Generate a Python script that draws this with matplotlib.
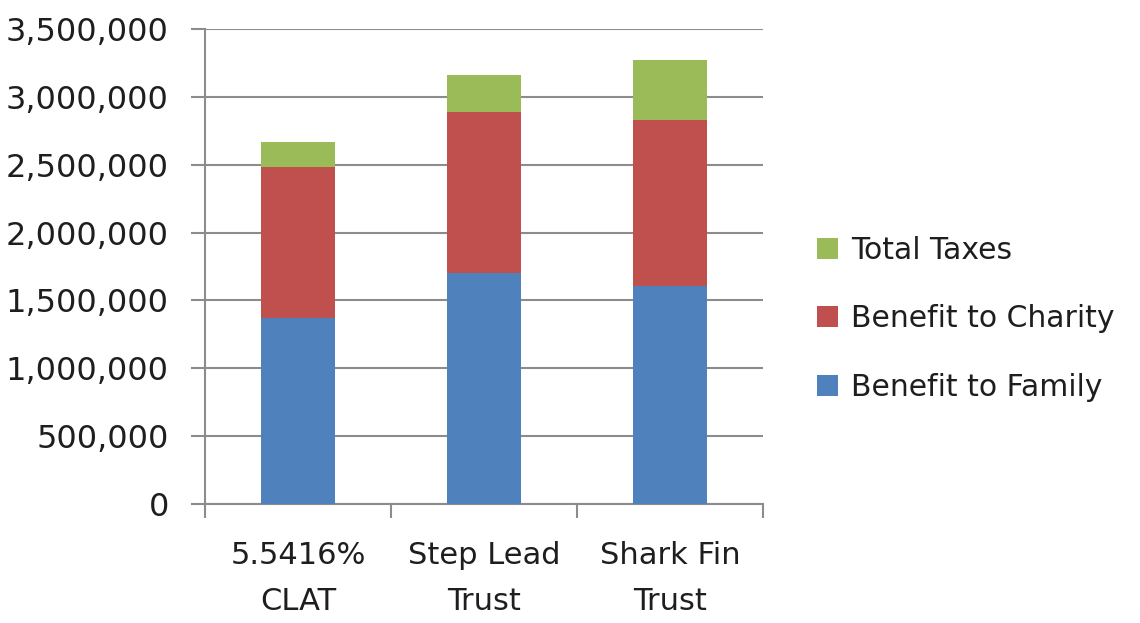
import matplotlib.pyplot as plt
from matplotlib.ticker import FuncFormatter, FixedLocator
import numpy as np

categories = ['5.5416%\nCLAT', 'Step Lead\nTrust', 'Shark Fin\nTrust']
family = [1370000, 1700000, 1610000]
charity = [1110000, 1185000, 1220000]
taxes = [185000, 275000, 440000]

plt.rcParams['font.family'] = ['DejaVu Sans']

fig = plt.figure(figsize=(11.4, 6.23), dpi=100)
ax = fig.add_axes([205 / 1140, 1 - 504 / 623, 558 / 1140, 475 / 623])

x = np.arange(len(categories))
w = 0.4
b1 = ax.bar(x, family, w, color='#4F81BD', label='Benefit to Family', zorder=3)
b2 = ax.bar(x, charity, w, bottom=family, color='#C0504D',
            label='Benefit to Charity', zorder=3)
bottom3 = np.array(family) + np.array(charity)
b3 = ax.bar(x, taxes, w, bottom=bottom3, color='#9BBB59',
            label='Total Taxes', zorder=3)

ax.set_xlim(-0.5, len(categories) - 0.5)
ax.set_ylim(0, 3500000)
ax.set_yticks(np.arange(0, 3500001, 500000))
ax.yaxis.set_major_formatter(FuncFormatter(lambda v, p: f'{int(v):,}'))
ax.yaxis.grid(True, color='#8c8c8c', linewidth=1.5, zorder=0)

# category labels sit between the boundary ticks
ax.xaxis.set_major_locator(FixedLocator([-0.5, 0.5, 1.5, 2.5]))
ax.xaxis.set_major_formatter(FuncFormatter(lambda v, p: ''))
ax.xaxis.set_minor_locator(FixedLocator(x))
ax.set_xticklabels(categories, minor=True, linespacing=1.72)
ax.tick_params(axis='x', which='minor', length=0, pad=27, labelsize=22)
ax.tick_params(axis='x', which='major', length=10, width=1.5, color='#8c8c8c',
               direction='out')
ax.tick_params(axis='both', which='both', labelcolor='#1e1e1e')
ax.tick_params(axis='y', length=10, width=1.5, color='#8c8c8c', pad=16,
               labelsize=23)

for s in ['top', 'right']:
    ax.spines[s].set_visible(False)
for s in ['left', 'bottom']:
    ax.spines[s].set_color('#8c8c8c')
    ax.spines[s].set_linewidth(1.5)

leg = ax.legend(handles=[b3, b2, b1], loc='center left',
                bbox_to_anchor=(1.07, 0.39), frameon=False, fontsize=21.5,
                handlelength=0.7, handleheight=0.7, labelspacing=1.32,
                handletextpad=0.45, borderpad=0)
for t in leg.get_texts():
    t.set_color('#1e1e1e')

plt.savefig('out.png', dpi=100)
